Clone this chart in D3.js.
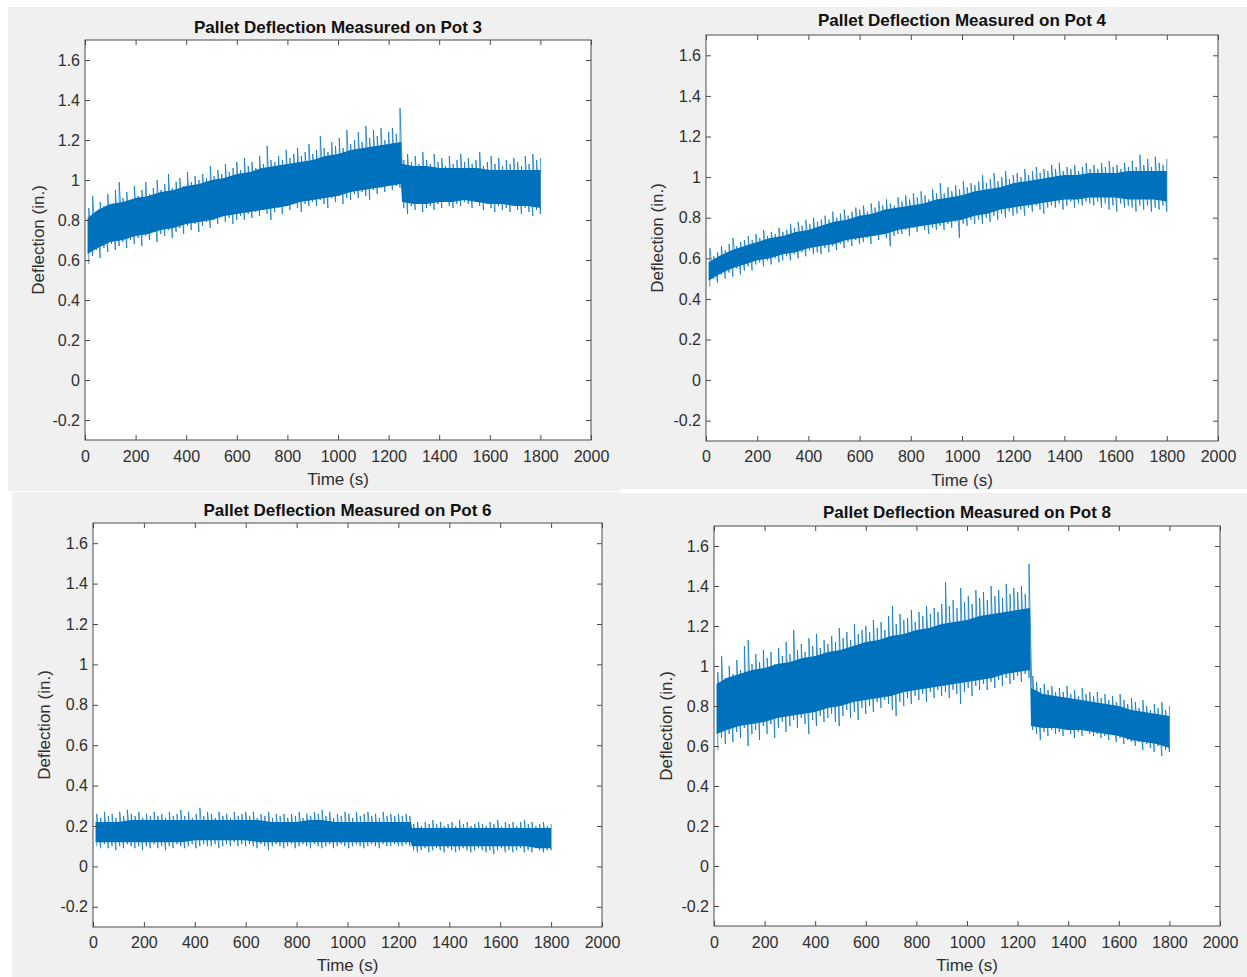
<!DOCTYPE html>
<html>
<head>
<meta charset="utf-8">
<script src="https://cdn.jsdelivr.net/npm/d3@7"></script>
<style>
  html, body { margin: 0; padding: 0; background: #ffffff; }
  svg { display: block; font-family: "Liberation Sans", Arial, Helvetica, sans-serif; }
</style>
</head>
<body>
<svg id="fig" width="1247" height="977"></svg>
<script>
// ---------------------------------------------------------------------------
// Axis ticks shared by all four pots
// ---------------------------------------------------------------------------
const xTickValues = [0, 200, 400, 600, 800, 1000, 1200, 1400, 1600, 1800, 2000];
const xTickLabels = ["0", "200", "400", "600", "800", "1000", "1200", "1400", "1600", "1800", "2000"];
const yTickValues = [-0.2, 0, 0.2, 0.4, 0.6, 0.8, 1, 1.2, 1.4, 1.6];
const yTickLabels = ["-0.2", "0", "0.2", "0.4", "0.6", "0.8", "1", "1.2", "1.4", "1.6"];
const xDomain = [0, 2000];
const yDomain = [-0.3, 1.7];

// ---------------------------------------------------------------------------
// Dense band of each record: upper / lower edge of the solid trace (in.)
// sampled at these times (s); the load was released at about 1250 s
// ---------------------------------------------------------------------------
const bandTimes = [10, 50, 100, 150, 200, 250, 300, 350, 400, 450, 500, 550, 600, 650, 700, 750,
  800, 850, 900, 950, 1000, 1050, 1100, 1150, 1200, 1249, 1253, 1300, 1350, 1400, 1450, 1500,
  1550, 1600, 1650, 1700, 1750, 1800];

const pot3BandHi = [0.81, 0.85, 0.88, 0.89, 0.91, 0.92, 0.94, 0.95, 0.97, 0.98, 1.00, 1.01, 1.03, 1.04, 1.06, 1.07,
  1.08, 1.09, 1.10, 1.12, 1.13, 1.15, 1.16, 1.17, 1.18, 1.19, 1.08, 1.07, 1.07, 1.06, 1.06, 1.06,
  1.06, 1.05, 1.05, 1.05, 1.05, 1.05];
const pot3BandLo = [0.63, 0.66, 0.69, 0.70, 0.72, 0.73, 0.75, 0.76, 0.78, 0.79, 0.80, 0.82, 0.83, 0.84, 0.85, 0.86,
  0.87, 0.89, 0.90, 0.91, 0.92, 0.94, 0.95, 0.96, 0.97, 0.98, 0.89, 0.88, 0.88, 0.89, 0.89, 0.90,
  0.89, 0.88, 0.88, 0.87, 0.87, 0.86];

const pot4BandHi = [0.58, 0.61, 0.64, 0.66, 0.68, 0.70, 0.71, 0.73, 0.74, 0.76, 0.78, 0.79, 0.81, 0.82, 0.84, 0.85,
  0.86, 0.87, 0.89, 0.90, 0.91, 0.93, 0.94, 0.95, 0.97, 0.98, 0.98, 0.99, 1.00, 1.01, 1.01, 1.02,
  1.02, 1.02, 1.03, 1.03, 1.03, 1.03];
const pot4BandLo = [0.49, 0.52, 0.55, 0.57, 0.59, 0.60, 0.62, 0.63, 0.65, 0.66, 0.67, 0.69, 0.70, 0.71, 0.72, 0.74,
  0.75, 0.76, 0.77, 0.78, 0.79, 0.81, 0.82, 0.84, 0.85, 0.86, 0.86, 0.87, 0.88, 0.89, 0.89, 0.90,
  0.90, 0.90, 0.89, 0.89, 0.89, 0.88];

const pot6BandHi = [0.22, 0.22, 0.22, 0.23, 0.23, 0.23, 0.23, 0.23, 0.23, 0.23, 0.23, 0.23, 0.23, 0.23, 0.22, 0.22,
  0.22, 0.23, 0.23, 0.22, 0.22, 0.22, 0.22, 0.22, 0.22, 0.22, 0.19, 0.19, 0.19, 0.19, 0.19, 0.19,
  0.19, 0.19, 0.19, 0.19, 0.19, 0.19];
const pot6BandLo = [0.12, 0.12, 0.12, 0.12, 0.12, 0.12, 0.12, 0.12, 0.13, 0.13, 0.13, 0.13, 0.13, 0.12, 0.12, 0.12,
  0.12, 0.12, 0.12, 0.12, 0.12, 0.12, 0.12, 0.12, 0.12, 0.12, 0.10, 0.10, 0.10, 0.10, 0.10, 0.10,
  0.10, 0.10, 0.10, 0.10, 0.09, 0.09];

const pot8BandHi = [0.91, 0.94, 0.96, 0.98, 0.99, 1.01, 1.02, 1.04, 1.05, 1.07, 1.08, 1.10, 1.12, 1.13, 1.15, 1.16,
  1.18, 1.19, 1.21, 1.22, 1.23, 1.25, 1.26, 1.27, 1.28, 1.29, 0.89, 0.86, 0.85, 0.84, 0.83, 0.82,
  0.81, 0.80, 0.78, 0.77, 0.76, 0.75];
const pot8BandLo = [0.66, 0.68, 0.70, 0.71, 0.72, 0.74, 0.75, 0.76, 0.77, 0.79, 0.80, 0.82, 0.83, 0.84, 0.85, 0.87,
  0.88, 0.89, 0.90, 0.91, 0.92, 0.93, 0.94, 0.96, 0.97, 0.98, 0.70, 0.69, 0.69, 0.68, 0.68, 0.67,
  0.66, 0.65, 0.63, 0.62, 0.61, 0.59];

// ---------------------------------------------------------------------------
// Peak excursions of the noisy trace: highest / lowest reading within each
// 15 s window, windows ending at 15, 30, ..., 1800 s (120 windows)
// ---------------------------------------------------------------------------
const peakTimes = d3.range(15, 1801, 15);

const pot3PeakHi = [
  0.86, 0.92, 0.84, 0.89, 0.87, 0.93, 0.88, 0.95, 0.99, 0.91,
  0.94, 0.90, 0.97, 0.92, 0.95, 0.99, 0.93, 0.96, 1.00, 0.95,
  0.98, 1.03, 0.96, 0.99, 1.01, 0.97, 1.04, 0.99, 1.02, 1.00,
  1.03, 1.01, 1.07, 1.02, 1.05, 1.03, 1.08, 1.04, 1.06, 1.09,
  1.05, 1.11, 1.07, 1.09, 1.06, 1.12, 1.08, 1.17, 1.10, 1.09,
  1.12, 1.10, 1.15, 1.11, 1.13, 1.16, 1.12, 1.14, 1.18, 1.13,
  1.15, 1.22, 1.16, 1.14, 1.19, 1.17, 1.21, 1.16, 1.25, 1.18,
  1.20, 1.24, 1.19, 1.27, 1.21, 1.25, 1.22, 1.26, 1.20, 1.24,
  1.26, 1.23, 1.36, 1.10, 1.13, 1.09, 1.12, 1.08, 1.14, 1.10,
  1.08, 1.13, 1.09, 1.11, 1.07, 1.12, 1.08, 1.10, 1.13, 1.09,
  1.11, 1.08, 1.10, 1.14, 1.07, 1.09, 1.12, 1.08, 1.11, 1.07,
  1.10, 1.08, 1.11, 1.09, 1.07, 1.12, 1.08, 1.13, 1.10, 1.11];
const pot3PeakLo = [
  0.58, 0.62, 0.65, 0.61, 0.66, 0.64, 0.68, 0.65, 0.67, 0.69,
  0.66, 0.70, 0.68, 0.71, 0.67, 0.72, 0.70, 0.74, 0.69, 0.73,
  0.72, 0.75, 0.71, 0.74, 0.76, 0.73, 0.77, 0.75, 0.78, 0.74,
  0.77, 0.79, 0.76, 0.80, 0.78, 0.82, 0.79, 0.81, 0.78, 0.80,
  0.82, 0.80, 0.83, 0.81, 0.84, 0.82, 0.85, 0.83, 0.80, 0.84,
  0.86, 0.83, 0.87, 0.85, 0.88, 0.86, 0.84, 0.88, 0.87, 0.89,
  0.87, 0.90, 0.88, 0.86, 0.91, 0.89, 0.92, 0.88, 0.91, 0.90,
  0.93, 0.91, 0.94, 0.92, 0.90, 0.95, 0.93, 0.96, 0.94, 0.97,
  0.95, 0.97, 0.96, 0.86, 0.83, 0.87, 0.85, 0.88, 0.84, 0.86,
  0.87, 0.85, 0.88, 0.86, 0.89, 0.87, 0.86, 0.88, 0.87, 0.89,
  0.88, 0.86, 0.89, 0.87, 0.85, 0.88, 0.86, 0.84, 0.87, 0.85,
  0.86, 0.84, 0.87, 0.85, 0.83, 0.86, 0.84, 0.82, 0.85, 0.83];

const pot4PeakHi = [
  0.65, 0.61, 0.63, 0.66, 0.64, 0.67, 0.70, 0.66, 0.68, 0.69,
  0.71, 0.69, 0.72, 0.70, 0.74, 0.71, 0.73, 0.72, 0.75, 0.73,
  0.74, 0.77, 0.75, 0.78, 0.76, 0.79, 0.77, 0.80, 0.78, 0.79,
  0.81, 0.79, 0.83, 0.80, 0.82, 0.84, 0.81, 0.83, 0.85, 0.84,
  0.86, 0.83, 0.87, 0.85, 0.88, 0.86, 0.89, 0.87, 0.86, 0.90,
  0.88, 0.91, 0.89, 0.92, 0.90, 0.93, 0.91, 0.89, 0.94, 0.92,
  0.97, 0.92, 0.95, 0.93, 0.96, 0.94, 0.98, 0.95, 0.97, 0.96,
  0.98, 1.01, 0.97, 0.99, 1.02, 0.98, 1.00, 1.03, 0.99, 1.01,
  1.02, 1.00, 1.04, 1.01, 1.03, 1.05, 1.02, 1.04, 1.03, 1.06,
  1.04, 1.07, 1.03, 1.05, 1.04, 1.06, 1.03, 1.05, 1.07, 1.04,
  1.06, 1.04, 1.07, 1.05, 1.08, 1.05, 1.06, 1.04, 1.07, 1.05,
  1.08, 1.05, 1.11, 1.06, 1.09, 1.05, 1.10, 1.07, 1.06, 1.09];
const pot4PeakLo = [
  0.46, 0.50, 0.48, 0.52, 0.50, 0.53, 0.51, 0.55, 0.52, 0.54,
  0.56, 0.54, 0.57, 0.58, 0.56, 0.59, 0.57, 0.60, 0.58, 0.59,
  0.61, 0.59, 0.62, 0.60, 0.63, 0.61, 0.64, 0.62, 0.63, 0.62,
  0.65, 0.63, 0.66, 0.64, 0.67, 0.65, 0.68, 0.66, 0.69, 0.67,
  0.68, 0.70, 0.67, 0.71, 0.69, 0.72, 0.70, 0.66, 0.71, 0.72,
  0.72, 0.74, 0.71, 0.75, 0.73, 0.76, 0.74, 0.72, 0.75, 0.74,
  0.76, 0.74, 0.77, 0.75, 0.78, 0.70, 0.77, 0.76, 0.79, 0.77,
  0.79, 0.77, 0.80, 0.78, 0.81, 0.79, 0.82, 0.80, 0.83, 0.81,
  0.82, 0.84, 0.81, 0.85, 0.83, 0.86, 0.84, 0.82, 0.85, 0.86,
  0.85, 0.87, 0.84, 0.86, 0.88, 0.85, 0.87, 0.86, 0.88, 0.87,
  0.86, 0.88, 0.85, 0.87, 0.84, 0.86, 0.83, 0.87, 0.85, 0.86,
  0.85, 0.83, 0.86, 0.84, 0.86, 0.83, 0.85, 0.84, 0.86, 0.83];

const pot6PeakHi = [
  0.26, 0.24, 0.27, 0.25, 0.26, 0.24, 0.27, 0.25, 0.28, 0.26,
  0.25, 0.27, 0.24, 0.26, 0.25, 0.27, 0.25, 0.26, 0.24, 0.27,
  0.25, 0.26, 0.28, 0.25, 0.27, 0.24, 0.26, 0.29, 0.25, 0.27,
  0.26, 0.24, 0.27, 0.25, 0.26, 0.24, 0.27, 0.25, 0.26, 0.27,
  0.25, 0.27, 0.24, 0.26, 0.25, 0.27, 0.24, 0.26, 0.25, 0.26,
  0.24, 0.26, 0.25, 0.27, 0.24, 0.26, 0.25, 0.27, 0.26, 0.28,
  0.25, 0.27, 0.24, 0.26, 0.25, 0.27, 0.26, 0.24, 0.27, 0.25,
  0.26, 0.27, 0.25, 0.26, 0.24, 0.27, 0.25, 0.26, 0.25, 0.26,
  0.25, 0.26, 0.25, 0.21, 0.22, 0.20, 0.22, 0.21, 0.23, 0.21,
  0.22, 0.20, 0.21, 0.22, 0.20, 0.23, 0.21, 0.22, 0.20, 0.21,
  0.22, 0.21, 0.20, 0.22, 0.21, 0.23, 0.20, 0.22, 0.21, 0.22,
  0.20, 0.22, 0.23, 0.21, 0.22, 0.20, 0.21, 0.22, 0.20, 0.21];
const pot6PeakLo = [
  0.10, 0.09, 0.11, 0.09, 0.10, 0.08, 0.10, 0.09, 0.11, 0.10,
  0.09, 0.10, 0.08, 0.10, 0.09, 0.11, 0.09, 0.10, 0.08, 0.10,
  0.09, 0.11, 0.10, 0.09, 0.10, 0.11, 0.09, 0.10, 0.11, 0.10,
  0.10, 0.11, 0.09, 0.10, 0.11, 0.10, 0.12, 0.10, 0.11, 0.10,
  0.11, 0.10, 0.09, 0.11, 0.10, 0.08, 0.10, 0.11, 0.10, 0.09,
  0.10, 0.11, 0.09, 0.10, 0.11, 0.10, 0.09, 0.11, 0.10, 0.09,
  0.10, 0.11, 0.09, 0.10, 0.11, 0.10, 0.09, 0.10, 0.11, 0.10,
  0.09, 0.10, 0.11, 0.10, 0.09, 0.11, 0.10, 0.10, 0.11, 0.10,
  0.10, 0.11, 0.10, 0.08, 0.07, 0.08, 0.09, 0.07, 0.08, 0.09,
  0.08, 0.07, 0.09, 0.08, 0.07, 0.08, 0.09, 0.08, 0.07, 0.08,
  0.09, 0.08, 0.07, 0.08, 0.06, 0.08, 0.09, 0.07, 0.08, 0.07,
  0.08, 0.09, 0.07, 0.08, 0.07, 0.09, 0.08, 0.07, 0.08, 0.08];

const pot8PeakHi = [
  0.97, 1.05, 0.94, 1.00, 0.96, 1.03, 0.98, 1.10, 1.13, 1.01,
  1.06, 1.02, 1.08, 1.04, 1.07, 1.01, 1.09, 1.05, 1.12, 1.06,
  1.18, 1.08, 1.11, 1.07, 1.14, 1.10, 1.16, 1.09, 1.13, 1.11,
  1.15, 1.12, 1.19, 1.14, 1.17, 1.13, 1.21, 1.16, 1.18, 1.20,
  1.17, 1.23, 1.19, 1.22, 1.18, 1.25, 1.30, 1.21, 1.26, 1.23,
  1.24, 1.28, 1.22, 1.27, 1.25, 1.30, 1.26, 1.29, 1.27, 1.31,
  1.42, 1.30, 1.33, 1.29, 1.39, 1.32, 1.35, 1.31, 1.38, 1.34,
  1.37, 1.33, 1.40, 1.35, 1.38, 1.34, 1.41, 1.36, 1.39, 1.37,
  1.40, 1.36, 1.51, 0.95, 0.92, 0.89, 0.91, 0.88, 0.90, 0.87,
  0.89, 0.87, 0.90, 0.86, 0.88, 0.85, 0.89, 0.86, 0.87, 0.85,
  0.87, 0.84, 0.86, 0.83, 0.85, 0.82, 0.86, 0.83, 0.81, 0.84,
  0.82, 0.79, 0.83, 0.80, 0.78, 0.81, 0.79, 0.82, 0.78, 0.80];
const pot8PeakLo = [
  0.58, 0.64, 0.61, 0.66, 0.62, 0.67, 0.64, 0.69, 0.60, 0.66,
  0.68, 0.63, 0.70, 0.66, 0.71, 0.64, 0.69, 0.72, 0.67, 0.70,
  0.73, 0.69, 0.74, 0.71, 0.66, 0.73, 0.70, 0.75, 0.72, 0.74,
  0.76, 0.72, 0.70, 0.75, 0.78, 0.74, 0.77, 0.73, 0.79, 0.76,
  0.80, 0.77, 0.82, 0.79, 0.83, 0.81, 0.78, 0.75, 0.82, 0.80,
  0.84, 0.81, 0.85, 0.83, 0.86, 0.82, 0.87, 0.84, 0.88, 0.85,
  0.87, 0.84, 0.88, 0.86, 0.81, 0.87, 0.89, 0.85, 0.90, 0.88,
  0.91, 0.88, 0.92, 0.89, 0.93, 0.90, 0.94, 0.91, 0.93, 0.95,
  0.92, 0.96, 0.94, 0.68, 0.66, 0.63, 0.67, 0.65, 0.68, 0.66,
  0.67, 0.65, 0.68, 0.66, 0.64, 0.67, 0.65, 0.68, 0.66, 0.65,
  0.66, 0.64, 0.65, 0.63, 0.66, 0.62, 0.64, 0.61, 0.63, 0.62,
  0.60, 0.62, 0.58, 0.61, 0.59, 0.57, 0.60, 0.55, 0.58, 0.57];

const potNames = ["Pot 3", "Pot 4", "Pot 6", "Pot 8"];

// ---------------------------------------------------------------------------
// Figure layout: four screen captures tiled two by two
// ---------------------------------------------------------------------------
const panels = [
  { name: potNames[0], bandHi: pot3BandHi, bandLo: pot3BandLo, peakHi: pot3PeakHi, peakLo: pot3PeakLo,
    frame: { x: 8, y: 7, w: 612, h: 484 },
    box: { left: 85, right: 591, top: 40, bottom: 440 },
    titleY: 33, tickY: 457, xLabelY: 485, yLabelX: 38 },
  { name: potNames[1], bandHi: pot4BandHi, bandLo: pot4BandLo, peakHi: pot4PeakHi, peakLo: pot4PeakLo,
    frame: { x: 620, y: 7, w: 627, h: 482 },
    box: { left: 706, right: 1218, top: 35, bottom: 441 },
    titleY: 26, tickY: 457, xLabelY: 486, yLabelX: 657 },
  { name: potNames[2], bandHi: pot6BandHi, bandLo: pot6BandLo, peakHi: pot6PeakHi, peakLo: pot6PeakLo,
    frame: { x: 12, y: 492, w: 608, h: 485 },
    box: { left: 93, right: 602, top: 523, bottom: 927 },
    titleY: 516, tickY: 943, xLabelY: 971, yLabelX: 44 },
  { name: potNames[3], bandHi: pot8BandHi, bandLo: pot8BandLo, peakHi: pot8PeakHi, peakLo: pot8PeakLo,
    frame: { x: 620, y: 493, w: 627, h: 484 },
    box: { left: 714, right: 1220, top: 526, bottom: 926 },
    titleY: 518, tickY: 943, xLabelY: 971, yLabelX: 666 }
];

const traceBlue = "#0072BD";
const axisGrey = "#4a4a4a";
const textGrey = "#2e2e2e";
const tickLen = 5;
const fontStack = '"Liberation Sans", Arial, Helvetica, sans-serif';

const svg = d3.select("#fig");

panels.forEach((p, k) => {
  const g = svg.append("g").attr("class", "panel");

  // window background of the capture
  g.append("rect")
    .attr("x", p.frame.x).attr("y", p.frame.y)
    .attr("width", p.frame.w).attr("height", p.frame.h)
    .attr("fill", "#f0f0f0");

  const x = d3.scaleLinear().domain(xDomain).range([p.box.left, p.box.right]);
  const y = d3.scaleLinear().domain(yDomain).range([p.box.bottom, p.box.top]);

  // plotting area
  g.append("rect")
    .attr("x", p.box.left).attr("y", p.box.top)
    .attr("width", p.box.right - p.box.left).attr("height", p.box.bottom - p.box.top)
    .attr("fill", "#ffffff");

  const clipId = "clip" + k;
  svg.append("clipPath").attr("id", clipId)
    .append("rect")
    .attr("x", p.box.left).attr("y", p.box.top)
    .attr("width", p.box.right - p.box.left).attr("height", p.box.bottom - p.box.top);

  const trace = g.append("g").attr("clip-path", `url(#${clipId})`);

  // solid core of the trace
  const band = bandTimes.map((t, i) => ({ t, hi: p.bandHi[i], lo: p.bandLo[i] }));
  trace.append("path")
    .datum(band)
    .attr("fill", traceBlue)
    .attr("d", d3.area().x(d => x(d.t)).y0(d => y(d.lo)).y1(d => y(d.hi)));

  // peak excursions: the trace swings from each window's low to its high
  // and on to the next window's low
  const swing = [];
  peakTimes.forEach((t, i) => {
    swing.push({ t, v: p.peakLo[i] });
    swing.push({ t, v: p.peakHi[i] });
  });
  trace.append("path")
    .datum(swing)
    .attr("fill", "none")
    .attr("stroke", traceBlue)
    .attr("stroke-width", 1)
    .attr("stroke-opacity", 0.72)
    .attr("stroke-linejoin", "miter")
    .attr("d", d3.line().x(d => x(d.t)).y(d => y(d.v)));

  // axes: labelled bottom/left, tick-only top/right, ticks pointing inward
  const styleAxis = sel => {
    sel.select(".domain").remove();
    sel.selectAll(".tick line").attr("stroke", axisGrey);
    sel.selectAll(".tick text")
      .attr("fill", textGrey)
      .style("font-size", "16px")
      .style("font-family", fontStack);
  };

  g.append("g")
    .attr("transform", `translate(0,${p.box.bottom})`)
    .call(d3.axisBottom(x).tickValues(xTickValues)
      .tickFormat((d, i) => xTickLabels[i])
      .tickSizeInner(-tickLen).tickSizeOuter(0).tickPadding(p.tickY - p.box.bottom - 6))
    .call(styleAxis);

  g.append("g")
    .attr("transform", `translate(0,${p.box.top})`)
    .call(d3.axisTop(x).tickValues(xTickValues).tickFormat("")
      .tickSizeInner(-tickLen).tickSizeOuter(0))
    .call(styleAxis);

  g.append("g")
    .attr("transform", `translate(${p.box.left},0)`)
    .call(d3.axisLeft(y).tickValues(yTickValues)
      .tickFormat((d, i) => yTickLabels[i])
      .tickSizeInner(-tickLen).tickSizeOuter(0).tickPadding(5))
    .call(styleAxis);

  g.append("g")
    .attr("transform", `translate(${p.box.right},0)`)
    .call(d3.axisRight(y).tickValues(yTickValues).tickFormat("")
      .tickSizeInner(-tickLen).tickSizeOuter(0))
    .call(styleAxis);

  // axes box
  g.append("rect")
    .attr("x", p.box.left).attr("y", p.box.top)
    .attr("width", p.box.right - p.box.left).attr("height", p.box.bottom - p.box.top)
    .attr("fill", "none")
    .attr("stroke", axisGrey)
    .attr("stroke-width", 1);

  // title and axis labels
  const cx = (p.box.left + p.box.right) / 2;
  g.append("text")
    .attr("x", cx).attr("y", p.titleY)
    .attr("text-anchor", "middle")
    .attr("fill", "#111111")
    .style("font-size", "17px").style("font-weight", "bold")
    .text(`Pallet Deflection Measured on ${p.name}`);

  g.append("text")
    .attr("x", cx).attr("y", p.xLabelY)
    .attr("text-anchor", "middle")
    .attr("fill", textGrey)
    .style("font-size", "17px")
    .text("Time (s)");

  const cy = (p.box.top + p.box.bottom) / 2;
  g.append("text")
    .attr("transform", `translate(${p.yLabelX},${cy}) rotate(-90)`)
    .attr("text-anchor", "middle")
    .attr("dy", "0.35em")
    .attr("fill", textGrey)
    .style("font-size", "17px")
    .text("Deflection (in.)");
});
</script>
</body>
</html>
